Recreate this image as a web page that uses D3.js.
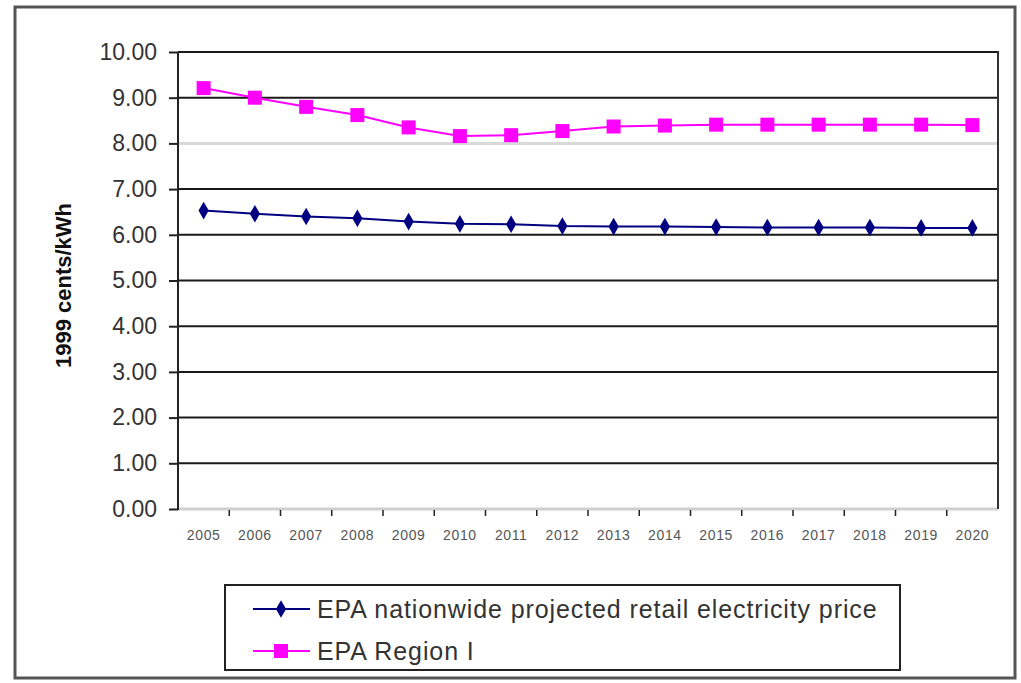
<!DOCTYPE html>
<html>
<head>
<meta charset="utf-8">
<script src="https://cdn.jsdelivr.net/npm/d3@7"></script>
<style>
  html, body { margin: 0; padding: 0; background: #fff; }
  svg { display: block; font-family: "Liberation Sans", Arial, sans-serif; }
</style>
</head>
<body>
<svg id="chart" width="1021" height="683"></svg>
<script>
const years = ["2005","2006","2007","2008","2009","2010","2011","2012","2013","2014","2015","2016","2017","2018","2019","2020"];
const nationwide = [6.53, 6.46, 6.40, 6.36, 6.29, 6.24, 6.23, 6.19, 6.18, 6.18, 6.17, 6.16, 6.16, 6.16, 6.15, 6.15];
const regionI = [9.21, 9.00, 8.80, 8.62, 8.35, 8.16, 8.18, 8.27, 8.37, 8.39, 8.41, 8.41, 8.41, 8.41, 8.41, 8.40];
const yTicks = [0, 1, 2, 3, 4, 5, 6, 7, 8, 9, 10];
const seriesNames = ["EPA nationwide projected retail electricity price", "EPA Region I"];
const yTitle = "1999 cents/kWh";

const svg = d3.select("#chart");
const L = 178, R = 998, T = 52, B = 509;

// outer frame
svg.append("rect").attr("x", 15).attr("y", 7).attr("width", 1000).attr("height", 671)
  .attr("fill", "#fff").attr("stroke", "#555").attr("stroke-width", 3);

const x = d3.scaleBand().domain(years).range([L, R]).paddingInner(0).paddingOuter(0);
const y = d3.scaleLinear().domain([0, 10]).range([B, T]);

// gridlines
svg.append("g").selectAll("line").data(yTicks.filter(d => d > 0)).join("line")
  .attr("x1", L).attr("x2", R)
  .attr("y1", d => y(d)).attr("y2", d => y(d))
  .attr("stroke", d => d === 8 ? "#d9d9d9" : "#1a1a1a")
  .attr("stroke-width", d => d === 8 ? 3 : 2);

// x axis baseline (light)
svg.append("line").attr("x1", L).attr("x2", R).attr("y1", y(0)).attr("y2", y(0))
  .attr("stroke", "#cfcfcf").attr("stroke-width", 3);

// right border
svg.append("line").attr("x1", R).attr("x2", R).attr("y1", T - 1).attr("y2", B)
  .attr("stroke", "#333").attr("stroke-width", 2);

// y axis
const yAxis = d3.axisLeft(y).tickValues(yTicks).tickFormat(d3.format(".2f")).tickSize(9).tickPadding(12);
const gy = svg.append("g").attr("transform", `translate(${L},0)`).call(yAxis);
gy.select(".domain").attr("stroke", "#222").attr("stroke-width", 2).attr("d", `M0,${T}V${B + 1}`);
gy.selectAll(".tick line").attr("stroke", "#222").attr("stroke-width", 2);
gy.selectAll(".tick text").attr("font-size", 23).attr("fill", "#333").attr("letter-spacing", 0)
  .attr("font-family", "'Liberation Sans', Arial, sans-serif");

// x axis
const xAxis = d3.axisBottom(x).tickSize(0).tickPadding(21);
const gx = svg.append("g").attr("transform", `translate(0,${B})`).call(xAxis);
gx.select(".domain").remove();
gx.selectAll(".tick text").attr("font-size", 14).attr("fill", "#555").attr("letter-spacing", 0.6)
  .attr("font-family", "'Liberation Sans', Arial, sans-serif");
// category separators
gx.append("g").selectAll("line").data(years.slice(1)).join("line")
  .attr("x1", d => x(d)).attr("x2", d => x(d)).attr("y1", 1).attr("y2", 7)
  .attr("stroke", "#222").attr("stroke-width", 1.5);

// y title
svg.append("text").attr("transform", `translate(71,${(T + B) / 2 + 5}) rotate(-90)`)
  .attr("text-anchor", "middle").attr("font-size", 22).attr("font-weight", "bold").attr("fill", "#111")
  .text(yTitle);

const cx = d => x(d) + x.bandwidth() / 2;
const line = d3.line().x(d => cx(d.year)).y(d => y(d.v));
const blueData = years.map((yr, i) => ({ year: yr, v: nationwide[i] }));
const pinkData = years.map((yr, i) => ({ year: yr, v: regionI[i] }));
const blue = "#000080", pink = "#ff00ff";
const diamond = d3.symbol().type(d3.symbolDiamond).size(90);

// pink series
svg.append("path").datum(pinkData).attr("d", line).attr("fill", "none").attr("stroke", pink).attr("stroke-width", 2);
svg.append("g").selectAll("rect").data(pinkData).join("rect")
  .attr("x", d => cx(d.year) - 7).attr("y", d => y(d.v) - 7).attr("width", 14).attr("height", 14)
  .attr("fill", pink);

// blue series
svg.append("path").datum(blueData).attr("d", line).attr("fill", "none").attr("stroke", blue).attr("stroke-width", 2);
svg.append("g").selectAll("path").data(blueData).join("path")
  .attr("d", diamond).attr("transform", d => `translate(${cx(d.year)},${y(d.v)})`).attr("fill", blue);

// legend
const lg = svg.append("g");
lg.append("rect").attr("x", 225).attr("y", 585).attr("width", 675).attr("height", 85)
  .attr("fill", "#fff").attr("stroke", "#222").attr("stroke-width", 2);
const legendRows = [
  { name: seriesNames[0], color: blue, type: "diamond", yy: 609 },
  { name: seriesNames[1], color: pink, type: "square", yy: 651 }
];
legendRows.forEach(r => {
  lg.append("line").attr("x1", 253).attr("x2", 310).attr("y1", r.yy).attr("y2", r.yy)
    .attr("stroke", r.color).attr("stroke-width", 2);
  if (r.type === "diamond") {
    lg.append("path").attr("d", diamond).attr("transform", `translate(281,${r.yy})`).attr("fill", r.color);
  } else {
    lg.append("rect").attr("x", 274).attr("y", r.yy - 7).attr("width", 14).attr("height", 14).attr("fill", r.color);
  }
  lg.append("text").attr("x", 317).attr("y", r.yy + 9).attr("font-size", 25).attr("fill", "#333")
    .attr("letter-spacing", 0.9).text(r.name);
});
</script>
</body>
</html>
